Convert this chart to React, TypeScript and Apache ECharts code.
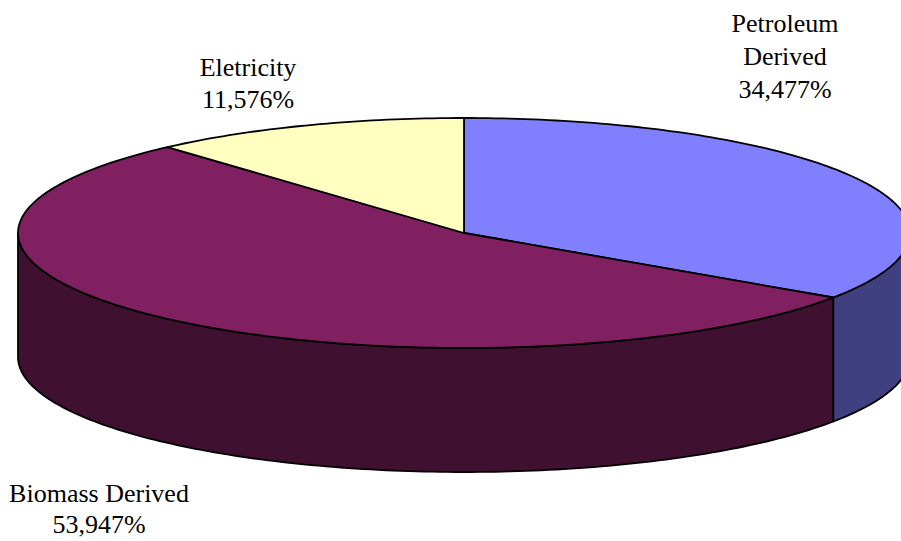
import React, { useEffect, useRef } from "react";
import * as echarts from "echarts";

// ---- data ----
const categories = ["Petroleum Derived", "Biomass Derived", "Eletricity"];
const labelNames = ["Petroleum\nDerived", "Biomass Derived", "Eletricity"];
const shares = [34.477, 53.947, 11.576];

// ---- styles / layout ----
const topColors = ["#8080FF", "#802060", "#FFFFC0"];
const sideColors = ["#404080", "#401030", "#808060"];
const labelCenters = [
  [785, 56],
  [99, 509],
  [248, 83],
];
const labelLineHeights = [33, 31, 32];
const GEO = { cx: 464, cy: 233, rx: 446, ry: 115, depth: 124 };
const FONT = "'Liberation Serif', 'Times New Roman', serif";

function pt(theta: number, drop: number) {
  const r = (theta * Math.PI) / 180;
  return [GEO.cx + GEO.rx * Math.sin(r), GEO.cy - GEO.ry * Math.cos(r) + drop];
}

function sliceRange(idx: number, value: number) {
  const total = shares.reduce((a, b) => a + b, 0);
  let start = 0;
  for (let i = 0; i < idx; i++) start += shares[i];
  const a0 = (start / total) * 360;
  const a1 = a0 + (value / total) * 360;
  return [a0, a1];
}

function arc(a0: number, a1: number, drop: number) {
  const pts: number[][] = [];
  const n = Math.max(2, Math.ceil(Math.abs(a1 - a0)));
  for (let i = 0; i <= n; i++) pts.push(pt(a0 + ((a1 - a0) * i) / n, drop));
  return pts;
}

export default function App() {
  const ref = useRef<HTMLDivElement>(null);
  useEffect(() => {
    if (!ref.current) return;
    const chart = echarts.init(ref.current, undefined, { renderer: "svg" });
    const data = shares.map((v, i) => ({ name: categories[i], value: v }));
    chart.setOption({
      animation: false,
      backgroundColor: "#ffffff",
      series: [
        {
          type: "custom",
          name: "sides",
          coordinateSystem: "none",
          silent: true,
          data,
          renderItem: (params: any, api: any) => {
            const idx = params.dataIndex;
            const [a0, a1] = sliceRange(idx, api.value(0));
            const s = Math.max(a0, 90);
            const e = Math.min(a1, 270);
            if (e <= s) return { type: "group", children: [] };
            const top = arc(s, e, 0);
            const bottom = arc(e, s, GEO.depth);
            return {
              type: "polygon",
              shape: { points: top.concat(bottom) },
              style: {
                fill: sideColors[idx],
                stroke: "#000",
                lineWidth: 1.8,
                lineJoin: "round",
              },
            };
          },
        },
        {
          type: "custom",
          name: "tops",
          coordinateSystem: "none",
          silent: true,
          data,
          renderItem: (params: any, api: any) => {
            const idx = params.dataIndex;
            const v = api.value(0);
            const [a0, a1] = sliceRange(idx, v);
            const pts = [[GEO.cx, GEO.cy]].concat(arc(a0, a1, 0));
            const label =
              labelNames[idx] + "\n" + v.toFixed(3).replace(".", ",") + "%";
            return {
              type: "group",
              children: [
                {
                  type: "polygon",
                  shape: { points: pts },
                  style: {
                    fill: topColors[idx],
                    stroke: "#000",
                    lineWidth: 1.8,
                    lineJoin: "round",
                  },
                },
                {
                  type: "text",
                  x: labelCenters[idx][0],
                  y: labelCenters[idx][1],
                  style: {
                    text: label,
                    fill: "#000",
                    fontSize: 26,
                    fontFamily: FONT,
                    align: "center",
                    verticalAlign: "middle",
                    lineHeight: labelLineHeights[idx],
                  },
                },
              ],
            };
          },
        },
      ],
    });
    return () => chart.dispose();
  }, []);
  return (
    <div
      ref={ref}
      style={{ position: "absolute", left: 0, top: 0, width: 901, height: 541 }}
    />
  );
}
